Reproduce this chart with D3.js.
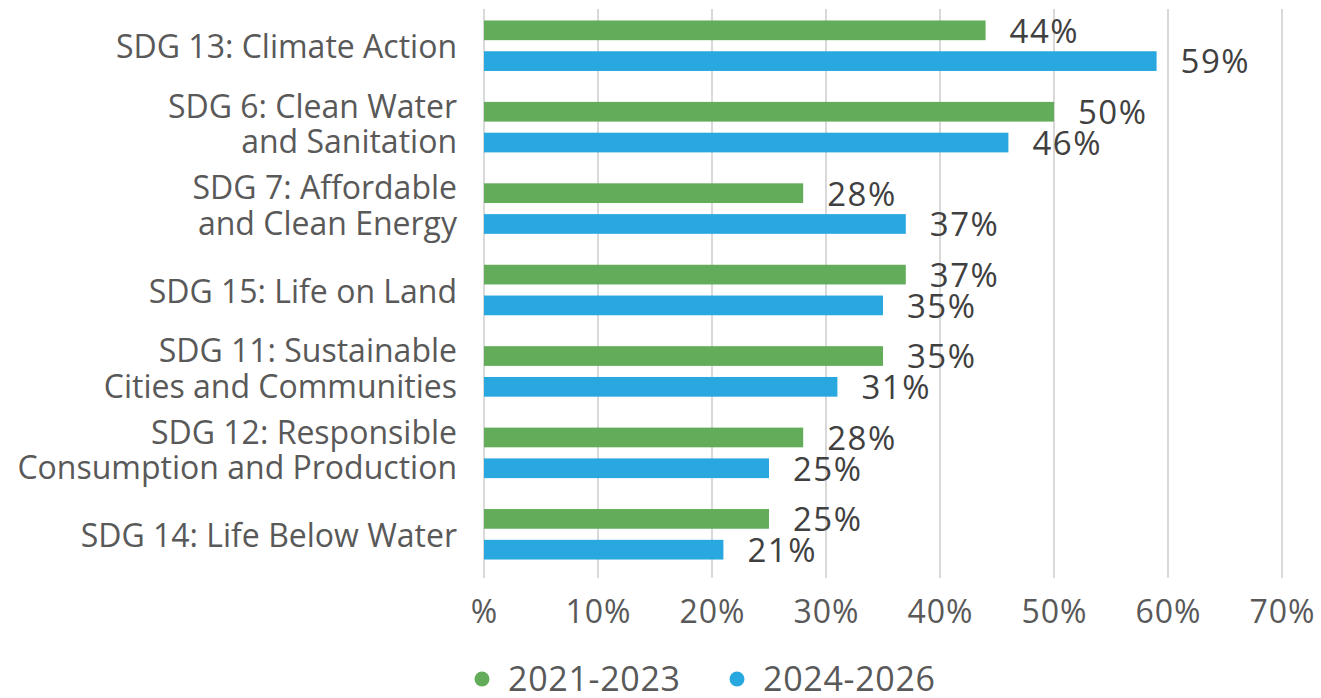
<!DOCTYPE html>
<html>
<head>
<meta charset="utf-8">
<script src="https://cdn.jsdelivr.net/npm/d3@7"></script>
<style>
  html, body { margin: 0; padding: 0; background: #fff; }
  svg { display: block; }
  text { font-family: "Open Sans", "Noto Sans", sans-serif; }
</style>
</head>
<body>
<svg id="chart" width="1321" height="698"></svg>
<script>
// Share of respondents prioritising each SDG, by period
const categories = [
  ["SDG 13: Climate Action"],
  ["SDG 6: Clean Water", "and Sanitation"],
  ["SDG 7: Affordable", "and Clean Energy"],
  ["SDG 15: Life on Land"],
  ["SDG 11: Sustainable", "Cities and Communities"],
  ["SDG 12: Responsible", "Consumption and Production"],
  ["SDG 14: Life Below Water"]
];
const series2021 = [44, 50, 28, 37, 35, 28, 25];
const series2024 = [59, 46, 37, 35, 31, 25, 21];
const seriesNames = ["2021-2023", "2024-2026"];
const tickValues = [0, 10, 20, 30, 40, 50, 60, 70];
const tickLabels = ["%", "10%", "20%", "30%", "40%", "50%", "60%", "70%"];

const colors = ["#63ad5a", "#29a8e0"];
const svg = d3.select("#chart");

const x = d3.scaleLinear().domain([0, 70]).range([484, 1282]);
const y = d3.scaleBand().domain(d3.range(categories.length)).range([5, 575]);
const inner = d3.scaleBand().domain([0, 1]).range([0, 50.5]).paddingInner(0.36);

// gridlines
svg.append("g")
  .selectAll("line")
  .data(tickValues)
  .join("line")
  .attr("x1", d => x(d)).attr("x2", d => x(d))
  .attr("y1", 9).attr("y2", 578)
  .attr("stroke", "#d9d9d9")
  .attr("stroke-width", 2);

// x axis labels
const xAxis = d3.axisBottom(x)
  .tickValues(tickValues)
  .tickFormat((d, i) => tickLabels[i])
  .tickSize(0)
  .tickPadding(0);
const gx = svg.append("g").attr("transform", "translate(0,611)").call(xAxis);
gx.select(".domain").remove();
gx.selectAll("text")
  .attr("y", 0)
  .attr("dy", "0.36em")
  .attr("fill", "#595959")
  .style("font-size", "32px")
  .style("letter-spacing", "1px")
  .style("font-family", "'Open Sans', sans-serif");

// bars
const data = categories.map((c, i) => ({ i, values: [series2021[i], series2024[i]] }));
const groups = svg.append("g").selectAll("g")
  .data(data)
  .join("g")
  .attr("transform", d => `translate(0,${y(d.i) + y.bandwidth() / 2 - 25.25})`);

groups.selectAll("rect")
  .data(d => d.values.map((v, k) => ({ v, k })))
  .join("rect")
  .attr("x", x(0))
  .attr("y", d => inner(d.k))
  .attr("width", d => x(d.v) - x(0))
  .attr("height", inner.bandwidth())
  .attr("fill", d => colors[d.k]);

groups.selectAll("text.val")
  .data(d => d.values.map((v, k) => ({ v, k })))
  .join("text")
  .attr("class", "val")
  .attr("x", d => x(d.v) + 24)
  .attr("y", d => inner(d.k) + inner.bandwidth() / 2 + 0.5)
  .attr("dy", "0.36em")
  .attr("fill", "#404040")
  .style("font-size", "33px")
  .style("letter-spacing", "1.5px")
  .text(d => d.v + "%");

// category labels
const labelGroup = svg.append("g");
categories.forEach((lines, i) => {
  const cy = y(i) + y.bandwidth() / 2 + (lines.length > 1 ? -3 : 1);
  const lh = 35.5;
  const t = labelGroup.append("text")
    .attr("text-anchor", "end")
    .attr("fill", "#595959")
    .style("font-size", "32px");
  lines.forEach((ln, j) => {
    t.append("tspan")
      .attr("x", 457)
      .attr("y", cy + (j - (lines.length - 1) / 2) * lh)
      .attr("dy", "0.36em")
      .text(ln);
  });
});

// legend
const legend = svg.append("g");
const legendX = [482, 737];
seriesNames.forEach((name, k) => {
  legend.append("circle")
    .attr("cx", legendX[k]).attr("cy", 679).attr("r", 7.5)
    .attr("fill", colors[k]);
  legend.append("text")
    .attr("x", legendX[k] + 26).attr("y", 679)
    .attr("dy", "0.36em")
    .attr("fill", "#595959")
    .style("font-size", "34px")
    .style("letter-spacing", "0.7px")
    .text(name);
});
</script>
</body>
</html>
